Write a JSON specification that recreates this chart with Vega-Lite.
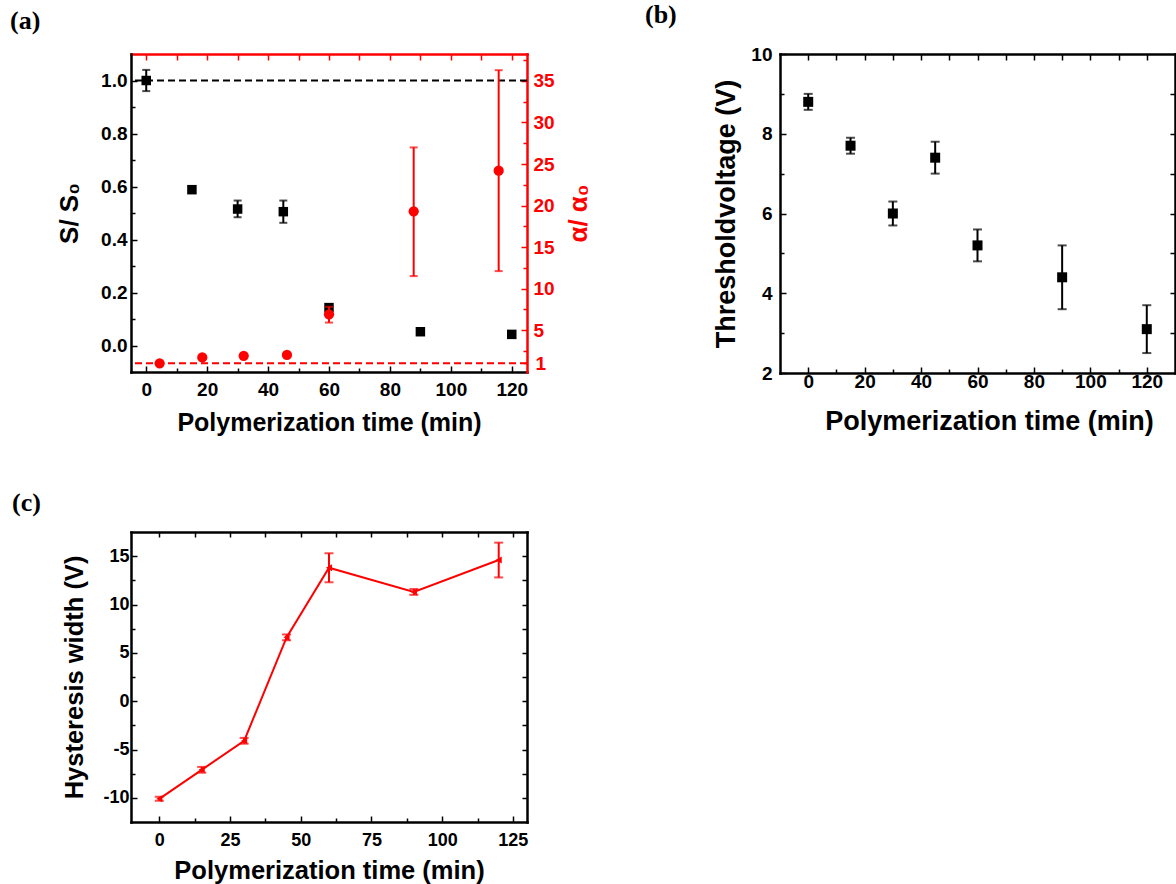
{
  "$schema": "https://vega.github.io/schema/vega-lite/v6.json",
  "autosize": {"type": "none"},
  "padding": {"left": 131, "top": 54, "right": 1045, "bottom": 830},
  "background": "white",
  "datasets": {
    "sa": [
      {"t": 0, "s": 1.0, "lo": 0.96, "hi": 1.04},
      {"t": 15, "s": 0.588, "lo": 0.576, "hi": 0.6},
      {"t": 30, "s": 0.515, "lo": 0.484, "hi": 0.547},
      {"t": 45, "s": 0.505, "lo": 0.463, "hi": 0.547},
      {"t": 60, "s": 0.143, "lo": 0.131, "hi": 0.155},
      {"t": 90, "s": 0.052, "lo": 0.042, "hi": 0.062},
      {"t": 120, "s": 0.042, "lo": 0.032, "hi": 0.052}
    ],
    "aa": [
      {"t": 4.4, "a": 1.0, "lo": 1.0, "hi": 1.0},
      {"t": 18.4, "a": 1.7, "lo": 1.7, "hi": 1.7},
      {"t": 32, "a": 1.9, "lo": 1.9, "hi": 1.9},
      {"t": 46.2, "a": 2.0, "lo": 2.0, "hi": 2.0},
      {"t": 60, "a": 6.9, "lo": 5.9, "hi": 7.8},
      {"t": 87.8, "a": 19.3, "lo": 11.5, "hi": 27.0},
      {"t": 115.7, "a": 24.2, "lo": 12.1, "hi": 36.3}
    ],
    "vb": [
      {"t": 0, "v": 8.8, "lo": 8.6, "hi": 9.0},
      {"t": 15, "v": 7.7, "lo": 7.5, "hi": 7.9},
      {"t": 30, "v": 6.0, "lo": 5.7, "hi": 6.3},
      {"t": 45, "v": 7.4, "lo": 7.0, "hi": 7.8},
      {"t": 60, "v": 5.2, "lo": 4.8, "hi": 5.6},
      {"t": 90, "v": 4.4, "lo": 3.6, "hi": 5.2},
      {"t": 120, "v": 3.1, "lo": 2.5, "hi": 3.7}
    ],
    "hc": [
      {"t": 0, "h": -10.1, "lo": -10.3, "hi": -9.9},
      {"t": 15, "h": -7.1, "lo": -7.4, "hi": -6.8},
      {"t": 30, "h": -4.1, "lo": -4.4, "hi": -3.8},
      {"t": 45, "h": 6.6, "lo": 6.3, "hi": 6.9},
      {"t": 60, "h": 13.8, "lo": 12.3, "hi": 15.3},
      {"t": 90, "h": 11.3, "lo": 11.0, "hi": 11.6},
      {"t": 120, "h": 14.6, "lo": 12.8, "hi": 16.4}
    ],
    "one": [{}]
  },
  "columns": 2,
  "spacing": {"row": 159, "column": 253},
  "bounds": "flush",
  "concat": [
    {
      "width": 396,
      "height": 318,
      "title": {"text": "(a)", "anchor": "start", "frame": "group", "dx": -121, "dy": 24, "offset": 20, "baseline": "alphabetic", "font": "Liberation Serif", "fontSize": 26, "fontWeight": "bold", "color": "black"},
      "layer": [
        {
          "data": {"name": "one"},
          "mark": {"type": "rule", "color": "black", "strokeWidth": 2, "strokeDash": [7, 4]},
          "encoding": {"y": {"datum": 1, "type": "quantitative", "scale": {"domain": [-0.1, 1.1], "nice": false}, "axis": null}}
        },
        {
          "data": {"name": "one"},
          "mark": {"type": "rule", "color": "#ff0000", "strokeWidth": 2, "strokeDash": [7, 4]},
          "encoding": {"y": {"datum": 1, "type": "quantitative", "scale": {"domain": [-0.05, 38.25], "nice": false}, "axis": null}}
        },
        {
          "data": {"name": "sa"},
          "mark": {"type": "errorbar", "color": "black", "thickness": 2, "ticks": {"size": 8, "thickness": 2}},
          "encoding": {
            "x": {"field": "t", "type": "quantitative", "scale": {"domain": [-5, 125], "nice": false},
              "axis": {"orient": "bottom", "values": [0,10,20,30,40,50,60,70,80,90,100,110,120],
                "labelExpr": "datum.value % 20 == 0 ? datum.label : ''",
                "tickSize": {"condition": {"test": "datum.value % 20 == 0", "value": -6}, "value": -4},
                "labelPadding": 14, "labelFontSize": 19,
                "title": "Polymerization time (min)", "titleFontSize": 25, "titlePadding": 9}},
            "y": {"field": "lo", "type": "quantitative", "scale": {"domain": [-0.1, 1.1], "nice": false},
              "axis": {"orient": "left", "values": [0,0.1,0.2,0.3,0.4,0.5,0.6,0.7,0.8,0.9,1.0],
                "labelExpr": "round(datum.value*10) % 2 == 0 ? format(datum.value, '.1f') : ''",
                "tickSize": {"condition": {"test": "round(datum.value*10) % 2 == 0", "value": -6}, "value": -4},
                "labelPadding": 10, "labelFontSize": 19,
                "title": "S/ S₀", "titleFontSize": 26, "titlePadding": 18}},
            "y2": {"field": "hi"}
          }
        },
        {
          "data": {"name": "sa"},
          "mark": {"type": "point", "shape": "square", "filled": true, "opacity": 1, "color": "black", "size": 90},
          "encoding": {
            "x": {"field": "t", "type": "quantitative", "scale": {"domain": [-5, 125], "nice": false}, "axis": null},
            "y": {"field": "s", "type": "quantitative", "scale": {"domain": [-0.1, 1.1], "nice": false}, "axis": null}
          }
        },
        {
          "data": {"name": "aa"},
          "mark": {"type": "errorbar", "color": "#ff0000", "thickness": 2, "ticks": {"size": 8, "thickness": 2}},
          "encoding": {
            "x": {"field": "t", "type": "quantitative", "scale": {"domain": [-5, 125], "nice": false},
              "axis": {"orient": "top", "values": [0,10,20,30,40,50,60,70,80,90,100,110,120],
                "labels": false, "tickSize": -6, "title": null, "domainColor": "#ff0000", "tickColor": "#ff0000"}},
            "y": {"field": "lo", "type": "quantitative", "scale": {"domain": [-0.05, 38.25], "nice": false},
              "axis": {"orient": "right", "values": [1,2.5,5,7.5,10,12.5,15,17.5,20,22.5,25,27.5,30,32.5,35,37.5],
                "labelExpr": "(datum.value == 1 || datum.value % 5 == 0) ? datum.label : ''",
                "tickSize": {"condition": {"test": "datum.value % 5 == 0", "value": -6}, "value": -4},
                "labelPadding": 12, "labelFontSize": 19, "labelColor": "#ff0000",
                "domainColor": "#ff0000", "tickColor": "#ff0000",
                "title": "α/ α₀", "titleColor": "#ff0000", "titleFontSize": 26, "titleAngle": 270, "titleBaseline": "top", "titlePadding": 11}},
            "y2": {"field": "hi"}
          }
        },
        {
          "data": {"name": "aa"},
          "mark": {"type": "point", "shape": "circle", "filled": true, "opacity": 1, "color": "#ff0000", "size": 105},
          "encoding": {
            "x": {"field": "t", "type": "quantitative", "scale": {"domain": [-5, 125], "nice": false}, "axis": null},
            "y": {"field": "a", "type": "quantitative", "scale": {"domain": [-0.05, 38.25], "nice": false}, "axis": null}
          }
        }
      ],
      "resolve": {"scale": {"y": "independent"}, "axis": {"x": "independent", "y": "independent"}}
    },
    {
      "width": 395,
      "height": 319,
      "title": {"text": "(b)", "anchor": "start", "frame": "group", "dx": -135, "dy": 24, "offset": 20, "baseline": "alphabetic", "font": "Liberation Serif", "fontSize": 26, "fontWeight": "bold", "color": "black"},
      "data": {"name": "vb"},
      "layer": [
        {
          "mark": {"type": "errorbar", "color": "black", "thickness": 2, "ticks": {"size": 9, "thickness": 2}},
          "encoding": {
            "x": {"field": "t", "type": "quantitative", "scale": {"domain": [-10, 130], "nice": false},
              "axis": {"orient": "bottom", "values": [0,10,20,30,40,50,60,70,80,90,100,110,120],
                "labelExpr": "datum.value % 20 == 0 ? datum.label : ''",
                "tickSize": {"condition": {"test": "datum.value % 20 == 0", "value": -6}, "value": -4},
                "labelPadding": 5, "labelFontSize": 19,
                "title": "Polymerization time (min)", "titleFontSize": 27, "titlePadding": 15, "titleX": 209}},
            "y": {"field": "lo", "type": "quantitative", "scale": {"domain": [2, 10], "nice": false},
              "axis": {"orient": "left", "values": [2,3,4,5,6,7,8,9,10],
                "labelExpr": "datum.value % 2 == 0 ? datum.label : ''",
                "tickSize": {"condition": {"test": "datum.value % 2 == 0", "value": -6}, "value": -4},
                "labelPadding": 14, "labelFontSize": 19,
                "title": "Thresholdvoltage (V)", "titleFontSize": 27, "titlePadding": 10}},
            "y2": {"field": "hi"}
          }
        },
        {
          "mark": {"type": "point", "shape": "square", "filled": true, "opacity": 1, "color": "black", "size": 100},
          "encoding": {
            "x": {"field": "t", "type": "quantitative", "scale": {"domain": [-10, 130], "nice": false},
              "axis": {"orient": "top", "values": [0,10,20,30,40,50,60,70,80,90,100,110,120],
                "labels": false, "tickSize": -6, "title": null}},
            "y": {"field": "v", "type": "quantitative", "scale": {"domain": [2, 10], "nice": false},
              "axis": {"orient": "right", "values": [3,4,5,6,7,8,9],
                "labels": false, "tickSize": -5, "title": null}}
          }
        }
      ],
      "resolve": {"axis": {"x": "independent", "y": "independent"}}
    },
    {
      "width": 396,
      "height": 290,
      "title": {"text": "(c)", "anchor": "start", "frame": "group", "dx": -119, "dy": 24, "offset": 18, "baseline": "alphabetic", "font": "Liberation Serif", "fontSize": 26, "fontWeight": "bold", "color": "black"},
      "data": {"name": "hc"},
      "layer": [
        {
          "mark": {"type": "line", "color": "#ff0000", "strokeWidth": 2},
          "encoding": {
            "x": {"field": "t", "type": "quantitative", "scale": {"domain": [-10, 130], "nice": false},
              "axis": {"orient": "top", "values": [0,12.5,25,37.5,50,62.5,75,87.5,100,112.5,125],
                "labels": false, "tickSize": -5, "title": null}},
            "y": {"field": "h", "type": "quantitative", "scale": {"domain": [-12.5, 17.5], "nice": false},
              "axis": {"orient": "right", "values": [-10,-7.5,-5,-2.5,0,2.5,5,7.5,10,12.5,15],
                "labels": false, "tickSize": -5, "title": null}}
          }
        },
        {
          "mark": {"type": "errorbar", "color": "#ff0000", "thickness": 2, "ticks": {"size": 9, "thickness": 2}},
          "encoding": {
            "x": {"field": "t", "type": "quantitative", "scale": {"domain": [-10, 130], "nice": false},
              "axis": {"orient": "bottom", "values": [0,12.5,25,37.5,50,62.5,75,87.5,100,112.5,125],
                "labelExpr": "datum.value % 25 == 0 ? datum.label : ''",
                "tickSize": {"condition": {"test": "datum.value % 25 == 0", "value": -6}, "value": -4},
                "labelPadding": 15, "labelFontSize": 18,
                "title": "Polymerization time (min)", "titleFontSize": 25.5, "titlePadding": 7}},
            "y": {"field": "lo", "type": "quantitative", "scale": {"domain": [-12.5, 17.5], "nice": false},
              "axis": {"orient": "left", "values": [-10,-7.5,-5,-2.5,0,2.5,5,7.5,10,12.5,15],
                "labelExpr": "datum.value % 5 == 0 ? ('' + datum.value) : ''",
                "tickSize": {"condition": {"test": "datum.value % 5 == 0", "value": -6}, "value": -4},
                "labelPadding": 8, "labelFontSize": 18,
                "title": "Hysteresis width (V)", "titleFontSize": 25.5, "titlePadding": 15}},
            "y2": {"field": "hi"}
          }
        },
        {
          "mark": {"type": "point", "shape": "triangle-left", "filled": true, "opacity": 1, "color": "#ff0000", "size": 50},
          "encoding": {
            "x": {"field": "t", "type": "quantitative", "scale": {"domain": [-10, 130], "nice": false}, "axis": null},
            "y": {"field": "h", "type": "quantitative", "scale": {"domain": [-12.5, 17.5], "nice": false}, "axis": null}
          }
        }
      ],
      "resolve": {"axis": {"x": "independent", "y": "independent"}}
    }
  ],
  "config": {
    "view": {"stroke": null},
    "font": "Liberation Sans",
    "axis": {
      "labelFont": "Liberation Sans",
      "titleFont": "Liberation Sans",
      "labelFontWeight": "bold",
      "titleFontWeight": "bold",
      "grid": false,
      "labelFlush": false,
      "labelOverlap": false,
      "labelBound": false,
      "domainWidth": 2.5,
      "domainCap": "square",
      "tickWidth": 1.5,
      "domainColor": "black",
      "tickColor": "black",
      "labelColor": "black",
      "titleColor": "black"
    }
  }
}
